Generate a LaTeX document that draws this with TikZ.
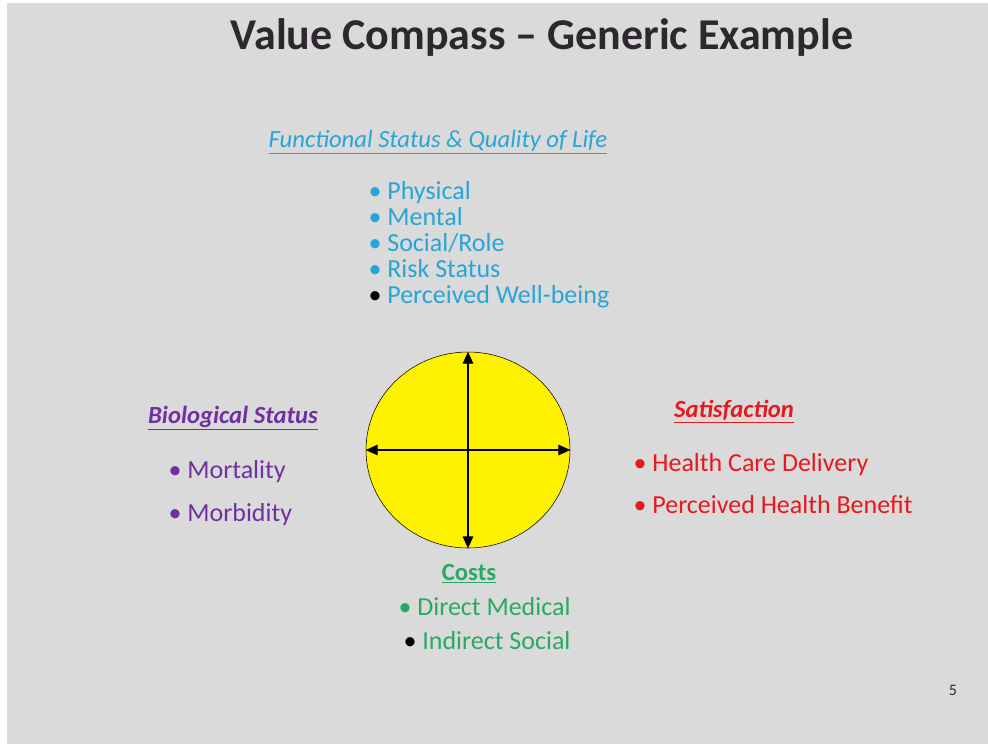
\documentclass[tikz,border=0pt]{standalone}
\usepackage{fontspec}
\setmainfont{Carlito}
\usetikzlibrary{positioning,shapes.geometric,arrows.meta}
\definecolor{slidebg}{RGB}{218,218,218}
\definecolor{titleink}{RGB}{45,40,45}
\definecolor{fsblue}{RGB}{40,165,215}
\definecolor{biopurple}{RGB}{112,48,160}
\definecolor{satred}{RGB}{230,25,30}
\definecolor{costgreen}{RGB}{40,170,100}
\tikzset{
  item/.style={inner sep=0pt,text height=14pt,text depth=4.75pt,font=\fontsize{19.5}{24}\selectfont},
  head/.style={inner sep=0pt,font=\fontsize{18.5}{22}\selectfont},
}
\newcommand{\blk}{{\color{black}\textbullet}}

\begin{document}
\begin{tikzpicture}[x=0.75pt,y=-0.75pt,node distance=0pt,<->,>={Triangle[length=9pt,width=8pt]},thick]
	\useasboundingbox (0,0) rectangle (988,744);
	\fill[white] (0,0) rectangle (988,744);
	\fill[slidebg] (7,3) rectangle (988,744);
	\node[inner sep=0pt,text=titleink,font=\fontsize{33}{38}\bfseries] (title) at (542,38) {Value Compass -- Generic Example};
	% top: functional status
	\node[head,text=fsblue,font=\fontsize{18.5}{22}\itshape] (fs) at (438,142) {\underline{Functional Status \& Quality of Life}};
	\node[item,text=fsblue,anchor=west] (phys) at (368,193) {\textbullet~Physical};
	\node[item,text=fsblue,below=of phys.south west,anchor=north west] (ment) {\textbullet~Mental};
	\node[item,text=fsblue,below=of ment.south west,anchor=north west] (soc) {\textbullet~Social/Role};
	\node[item,text=fsblue,below=of soc.south west,anchor=north west] (risk) {\textbullet~Risk Status};
	\node[item,text=fsblue,below=of risk.south west,anchor=north west] (well) {\blk~Perceived Well-being};
	% compass
	\node[ellipse,draw=black,fill=yellow,thin,minimum width=153pt,minimum height=147pt] (comp) at (468,450) {};
	\draw (comp.west) -- (comp.east);
	\draw (comp.north) -- (comp.south);
	% left: biological status
	\node[head,text=biopurple,font=\fontsize{18.5}{22}\bfseries\itshape] (bio) at (233,418) {\underline{Biological Status}};
	\node[item,text=biopurple,anchor=west] (mort) at (168,472) {\textbullet~Mortality};
	\node[item,text=biopurple,below=12.75pt of mort.south west,anchor=north west] (morb) {\textbullet~Morbidity};
	% right: satisfaction
	\node[head,text=satred,font=\fontsize{18.5}{22}\bfseries\itshape] (sat) at (734,412) {\underline{Satisfaction}};
	\node[item,text=satred,anchor=west] (hcd) at (633,465) {\textbullet~Health Care Delivery};
	\node[item,text=satred,below=12pt of hcd.south west,anchor=north west] (phb) {\textbullet~Perceived Health Benefit};
	% bottom: costs
	\node[head,text=costgreen,font=\fontsize{18.5}{22}\bfseries] (cost) at (469,574) {\underline{Costs}};
	\node[item,text=costgreen,anchor=west] (dmed) at (398,609) {\textbullet~Direct Medical};
	\node[item,text=costgreen,anchor=west] (isoc) at (403,643) {\blk~Indirect Social};
	\node[inner sep=0pt,text=titleink,font=\fontsize{12}{14}\selectfont] (pg) at (953,690) {5};
\end{tikzpicture}
\end{document}
